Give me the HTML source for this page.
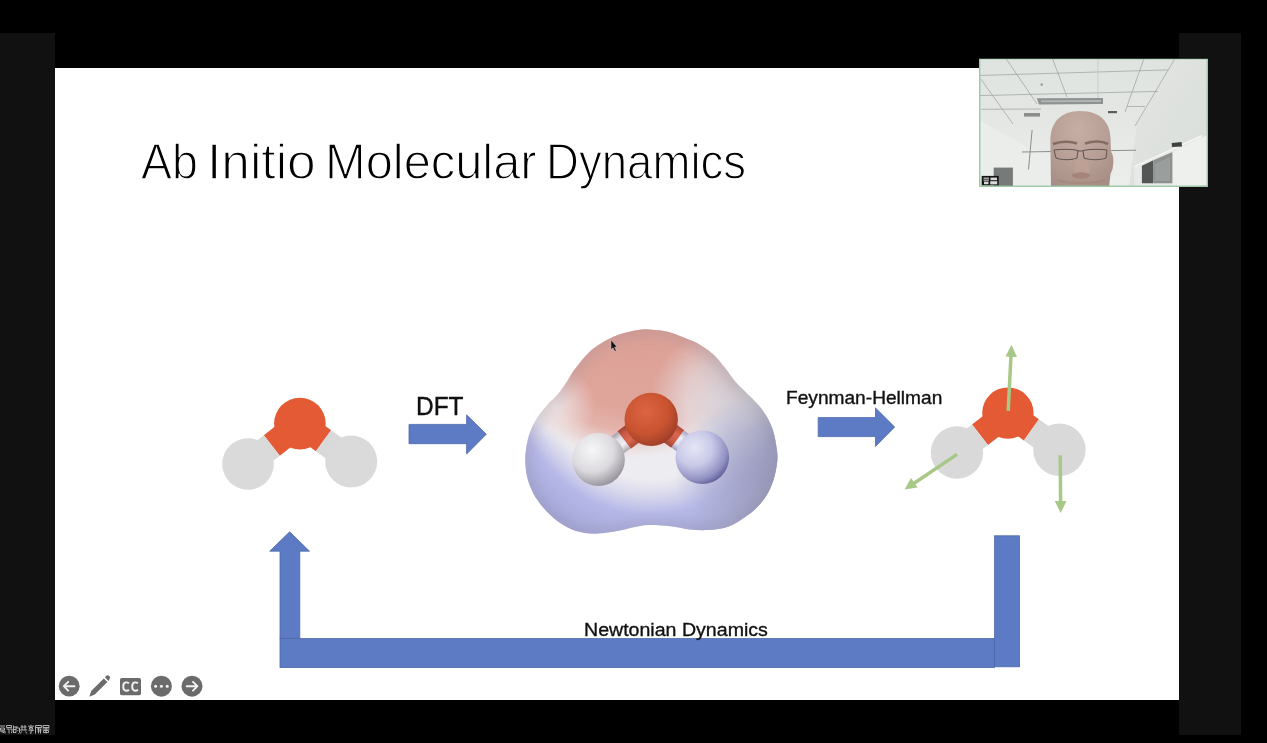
<!DOCTYPE html>
<html><head><meta charset="utf-8">
<style>
html,body{margin:0;padding:0;}
body{width:1267px;height:743px;background:#000;position:relative;overflow:hidden;font-family:"Liberation Sans",sans-serif;}
.abs{position:absolute;}
#lp{left:0;top:33px;width:55px;height:702px;background:#111;}
#rp{left:1179px;top:33px;width:62px;height:702px;background:#111;}
#slide{left:55px;top:68px;width:1124px;height:632px;background:#fff;}
.t{position:absolute;z-index:5;white-space:nowrap;color:#111;transform-origin:0 0;line-height:1;}
</style></head><body>
<div id="lp" class="abs"></div>
<div id="rp" class="abs"></div>
<div id="slide" class="abs"></div>

<div class="t" style="left:140.7px;top:136.8px;font-size:49.5px;-webkit-text-stroke:1.3px #fff;color:#000;transform:scaleX(0.939);">Ab</div>
<div class="t" style="left:206.9px;top:136.8px;font-size:49.5px;-webkit-text-stroke:1.3px #fff;color:#000;transform:scaleX(1.04);">Initio</div>
<div class="t" style="left:324.8px;top:136.8px;font-size:49.5px;-webkit-text-stroke:1.3px #fff;color:#000;transform:scaleX(0.986);">Molecular</div>
<div class="t" style="left:546.2px;top:136.8px;font-size:49.5px;-webkit-text-stroke:1.3px #fff;color:#000;transform:scaleX(0.921);">Dynamics</div>
<div class="t" id="dft" style="left:416px;top:394.4px;font-size:25.4px;transform:scaleX(0.963);-webkit-text-stroke:0.4px #111;">DFT</div>
<div class="t" id="fh" style="left:785.8px;top:388.5px;font-size:18.2px;transform:scaleX(1.052);-webkit-text-stroke:0.35px #111;">Feynman-Hellman</div>
<div class="t" id="nd" style="left:583.8px;top:620.6px;font-size:18.75px;transform:scaleX(1.044);-webkit-text-stroke:0.35px #111;">Newtonian Dynamics</div>

<svg class="abs" style="left:0;top:0" width="1267" height="743" viewBox="0 0 1267 743">
<defs>
  <linearGradient id="bondL1" gradientUnits="userSpaceOnUse" x1="299.5" y1="423.3" x2="248.5" y2="463.5">
    <stop offset="0.54" stop-color="#e85b37"/><stop offset="0.54" stop-color="#dadada"/>
  </linearGradient>
</defs>
<!-- blue arrows -->
<g fill="#5c7bc4" stroke="#4b69ab" stroke-width="0.8">
  <path d="M409 424.4 H466.6 V414.8 L486.3 434.2 L466.6 454.1 V443.7 H409 Z"/>
  <path d="M818.2 417.6 H875.5 V407.9 L894.7 427 L875.5 446.4 V436.6 H818.2 Z"/>
  <path d="M280 638.6 V551.2 H269.7 L289.7 531.8 L309.5 551.2 H299.8 V638.6 Z"/>
  <rect x="280" y="638.6" width="714.6" height="29"/>
  <rect x="994.6" y="535.8" width="24.9" height="131"/>
</g>

<!-- center molecule -->
<defs>
  <clipPath id="blobclip"><path d="M652.4 329.7 C657.1 330.1 662.0 330.2 668.0 331.8 C674.0 333.4 683.6 337.5 688.4 339.4 C693.2 341.3 692.9 340.6 697.0 343.0 C701.1 345.4 708.1 349.8 712.8 354.0 C717.5 358.2 721.2 363.3 725.0 368.0 C728.8 372.7 732.0 377.9 735.5 382.0 C739.0 386.1 742.2 388.7 746.0 392.5 C749.8 396.3 754.8 400.7 758.3 404.8 C761.8 408.9 764.5 412.6 767.0 417.0 C769.5 421.4 771.6 425.7 773.2 431.0 C774.8 436.3 776.0 443.4 776.7 448.6 C777.4 453.8 777.8 456.7 777.2 462.0 C776.7 467.3 775.2 474.6 773.4 480.2 C771.6 485.8 769.3 490.8 766.5 495.4 C763.7 500.0 760.2 504.2 756.4 508.0 C752.6 511.8 748.6 514.8 743.7 518.0 C738.9 521.2 733.2 525.0 727.3 527.0 C721.4 529.0 714.7 529.6 708.4 530.0 C702.1 530.4 695.7 530.0 689.4 529.4 C683.1 528.8 677.2 527.0 670.5 526.3 C663.8 525.6 655.3 524.8 649.0 525.0 C642.7 525.2 637.4 526.6 632.6 527.5 C627.8 528.4 626.2 529.5 620.0 530.5 C613.8 531.5 602.6 533.6 595.3 533.7 C588.0 533.8 581.7 532.7 576.0 531.0 C570.3 529.3 565.8 526.7 560.9 523.5 C556.0 520.3 550.8 515.6 546.9 511.7 C543.0 507.8 539.9 503.8 537.2 499.8 C534.5 495.9 532.6 492.3 530.8 488.0 C529.0 483.7 527.4 479.0 526.5 474.0 C525.6 469.0 525.2 463.2 525.3 458.0 C525.4 452.8 526.1 447.5 527.1 442.7 C528.1 437.9 529.4 433.5 531.2 429.2 C533.0 424.9 535.2 421.1 537.9 417.1 C540.6 413.1 543.9 408.8 547.3 405.0 C550.7 401.2 554.7 398.2 558.1 394.2 C561.5 390.2 564.7 385.0 567.5 380.8 C570.3 376.6 570.8 374.3 575.0 369.0 C579.2 363.7 585.7 354.6 592.7 349.0 C599.7 343.4 609.0 338.5 616.9 335.3 C624.8 332.1 634.1 330.6 640.0 329.7 C645.9 328.8 647.7 329.3 652.4 329.7Z"/></clipPath>
  <radialGradient id="esp" gradientUnits="userSpaceOnUse" cx="650" cy="330" r="220" gradientTransform="translate(650 330) scale(0.82 1) translate(-650 -330)">
    <stop offset="0.68" stop-color="#c4c4e8" stop-opacity="0"/>
    <stop offset="0.84" stop-color="#b6b8e8" stop-opacity="1"/>
    <stop offset="1" stop-color="#a6a8da"/>
  </radialGradient>
  <radialGradient id="sal" gradientUnits="userSpaceOnUse" cx="640" cy="330" r="150" gradientTransform="translate(636 330) rotate(-18) scale(1.1 0.95) translate(-636 -330)">
    <stop offset="0" stop-color="#dc9f95"/>
    <stop offset="0.55" stop-color="#dfa59b"/>
    <stop offset="0.70" stop-color="#e4b3ab"/>
    <stop offset="0.80" stop-color="#e9cdc9" stop-opacity="0.8"/>
    <stop offset="0.90" stop-color="#ecdfdf" stop-opacity="0"/>
  </radialGradient>
  <radialGradient id="rwhite" gradientUnits="userSpaceOnUse" cx="718" cy="400" r="68">
    <stop offset="0" stop-color="#e6e4ea" stop-opacity="0.9"/><stop offset="0.5" stop-color="#e6e4ea" stop-opacity="0.6"/><stop offset="1" stop-color="#e6e4ea" stop-opacity="0"/>
  </radialGradient>
  <radialGradient id="lwhite" gradientUnits="userSpaceOnUse" cx="555" cy="405" r="40">
    <stop offset="0" stop-color="#f0eef2" stop-opacity="0.8"/><stop offset="1" stop-color="#f0eef2" stop-opacity="0"/>
  </radialGradient>
  <radialGradient id="rlav" gradientUnits="userSpaceOnUse" cx="760" cy="480" r="85">
    <stop offset="0" stop-color="#acaed8" stop-opacity="0.9"/><stop offset="0.6" stop-color="#b4b6e0" stop-opacity="0.6"/><stop offset="1" stop-color="#b4b6e0" stop-opacity="0"/>
  </radialGradient>
  <linearGradient id="rshade" gradientUnits="userSpaceOnUse" x1="690" y1="0" x2="780" y2="0">
    <stop offset="0" stop-color="#787484" stop-opacity="0"/><stop offset="1" stop-color="#787484" stop-opacity="0.38"/>
  </linearGradient>
  <filter id="blur6" x="-20%" y="-20%" width="140%" height="140%"><feGaussianBlur stdDeviation="7"/></filter>
  <filter id="blur2" x="-20%" y="-20%" width="140%" height="140%"><feGaussianBlur stdDeviation="2"/></filter>
  <linearGradient id="bred" x1="0" y1="0" x2="0" y2="1">
    <stop offset="0" stop-color="#b04a38"/><stop offset="0.35" stop-color="#d9684f"/><stop offset="0.7" stop-color="#cc5c48"/><stop offset="1" stop-color="#a04434"/>
  </linearGradient>
  <linearGradient id="bwht" x1="0" y1="0" x2="0" y2="1">
    <stop offset="0" stop-color="#aaa6ae"/><stop offset="0.35" stop-color="#f0eef2"/><stop offset="0.7" stop-color="#e2e0e6"/><stop offset="1" stop-color="#a29ea8"/>
  </linearGradient>
  <linearGradient id="bwhtb" x1="0" y1="0" x2="0" y2="1">
    <stop offset="0" stop-color="#a6a6c0"/><stop offset="0.35" stop-color="#eeeef6"/><stop offset="0.7" stop-color="#dedeee"/><stop offset="1" stop-color="#9c9cbc"/>
  </linearGradient>
  <radialGradient id="gO" cx="0.4" cy="0.35" r="0.7">
    <stop offset="0" stop-color="#dc6444"/><stop offset="0.6" stop-color="#c9532f"/><stop offset="1" stop-color="#9a3c2a"/>
  </radialGradient>
  <radialGradient id="gHL" cx="0.38" cy="0.32" r="0.75">
    <stop offset="0" stop-color="#f6f6f8"/><stop offset="0.55" stop-color="#dcdade"/><stop offset="1" stop-color="#8e8a94"/>
  </radialGradient>
  <radialGradient id="gHR" cx="0.35" cy="0.32" r="0.75">
    <stop offset="0" stop-color="#e6e6f6"/><stop offset="0.45" stop-color="#c9c9e8"/><stop offset="0.8" stop-color="#9292c4"/><stop offset="1" stop-color="#5a5a92"/>
  </radialGradient>
</defs>
<g clip-path="url(#blobclip)">
  <rect x="515" y="320" width="270" height="220" fill="#edecf0"/>
  <rect x="515" y="320" width="270" height="220" fill="url(#esp)"/>
  <rect x="515" y="320" width="270" height="220" fill="url(#sal)"/>
  <rect x="515" y="320" width="270" height="220" fill="url(#rwhite)"/>
  <rect x="515" y="320" width="270" height="220" fill="url(#lwhite)"/>
  <rect x="515" y="320" width="270" height="220" fill="url(#rlav)"/>
  <rect x="515" y="320" width="270" height="220" fill="url(#rshade)"/>
  <path d="M652.4 329.7 C657.1 330.1 662.0 330.2 668.0 331.8 C674.0 333.4 683.6 337.5 688.4 339.4 C693.2 341.3 692.9 340.6 697.0 343.0 C701.1 345.4 708.1 349.8 712.8 354.0 C717.5 358.2 721.2 363.3 725.0 368.0 C728.8 372.7 732.0 377.9 735.5 382.0 C739.0 386.1 742.2 388.7 746.0 392.5 C749.8 396.3 754.8 400.7 758.3 404.8 C761.8 408.9 764.5 412.6 767.0 417.0 C769.5 421.4 771.6 425.7 773.2 431.0 C774.8 436.3 776.0 443.4 776.7 448.6 C777.4 453.8 777.8 456.7 777.2 462.0 C776.7 467.3 775.2 474.6 773.4 480.2 C771.6 485.8 769.3 490.8 766.5 495.4 C763.7 500.0 760.2 504.2 756.4 508.0 C752.6 511.8 748.6 514.8 743.7 518.0 C738.9 521.2 733.2 525.0 727.3 527.0 C721.4 529.0 714.7 529.6 708.4 530.0 C702.1 530.4 695.7 530.0 689.4 529.4 C683.1 528.8 677.2 527.0 670.5 526.3 C663.8 525.6 655.3 524.8 649.0 525.0 C642.7 525.2 637.4 526.6 632.6 527.5 C627.8 528.4 626.2 529.5 620.0 530.5 C613.8 531.5 602.6 533.6 595.3 533.7 C588.0 533.8 581.7 532.7 576.0 531.0 C570.3 529.3 565.8 526.7 560.9 523.5 C556.0 520.3 550.8 515.6 546.9 511.7 C543.0 507.8 539.9 503.8 537.2 499.8 C534.5 495.9 532.6 492.3 530.8 488.0 C529.0 483.7 527.4 479.0 526.5 474.0 C525.6 469.0 525.2 463.2 525.3 458.0 C525.4 452.8 526.1 447.5 527.1 442.7 C528.1 437.9 529.4 433.5 531.2 429.2 C533.0 424.9 535.2 421.1 537.9 417.1 C540.6 413.1 543.9 408.8 547.3 405.0 C550.7 401.2 554.7 398.2 558.1 394.2 C561.5 390.2 564.7 385.0 567.5 380.8 C570.3 376.6 570.8 374.3 575.0 369.0 C579.2 363.7 585.7 354.6 592.7 349.0 C599.7 343.4 609.0 338.5 616.9 335.3 C624.8 332.1 634.1 330.6 640.0 329.7 C645.9 328.8 647.7 329.3 652.4 329.7Z" fill="none" stroke="#85818f" stroke-opacity="0.3" stroke-width="10" filter="url(#blur6)"/>
</g>
<g>
  <g transform="translate(651.2 419.4) rotate(142.7)">
    <rect x="0" y="-11" width="34" height="22" fill="url(#bred)"/>
    <rect x="34" y="-10.5" width="32" height="21" fill="url(#bwht)"/>
  </g>
  <g transform="translate(651.2 419.4) rotate(36.5)">
    <rect x="0" y="-11" width="33" height="22" fill="url(#bred)"/>
    <rect x="33" y="-10.5" width="31" height="21" fill="url(#bwhtb)"/>
  </g>
  <circle cx="651.2" cy="419.4" r="26.7" fill="url(#gO)"/>
  <circle cx="598.5" cy="459.5" r="26.4" fill="url(#gHL)"/>
  <circle cx="702.3" cy="457.2" r="26.8" fill="url(#gHR)"/>
</g>
<path d="M611 340 L611 349.5 L613 347.8 L614.8 351.2 L616.2 350.5 L614.5 347.2 L617 347 Z" fill="#141414" stroke="#f4eeee" stroke-width="0.5" stroke-opacity="0.7"/>
<!-- left molecule -->
<g>
  <line x1="299.9" y1="423.6" x2="271.8" y2="445.5" stroke="#e35a35" stroke-width="26"/>
  <line x1="271.8" y1="445.5" x2="248.5" y2="463.5" stroke="#d9d9d9" stroke-width="26"/>
  <line x1="299.9" y1="423.6" x2="323.5" y2="440.7" stroke="#e35a35" stroke-width="26"/>
  <line x1="323.5" y1="440.7" x2="351.5" y2="461" stroke="#d9d9d9" stroke-width="26"/>
  <circle cx="299.9" cy="423.6" r="25.8" fill="#e35a35"/>
  <circle cx="248" cy="464" r="25.8" fill="#dadada"/>
  <circle cx="351.2" cy="461.4" r="26" fill="#dadada"/>
</g>
<!-- right molecule -->
<g>
  <line x1="1007.9" y1="413.1" x2="980" y2="434.7" stroke="#e35a35" stroke-width="26"/>
  <line x1="980" y1="434.7" x2="957" y2="452.5" stroke="#d9d9d9" stroke-width="26"/>
  <line x1="1007.9" y1="413.1" x2="1031.4" y2="429.8" stroke="#e35a35" stroke-width="26"/>
  <line x1="1031.4" y1="429.8" x2="1059.4" y2="449.8" stroke="#d9d9d9" stroke-width="26"/>
  <circle cx="1007.9" cy="413.1" r="25.7" fill="#e35a35"/>
  <circle cx="957" cy="452.5" r="26.2" fill="#d9d9d9"/>
  <circle cx="1059.4" cy="449.8" r="26.2" fill="#d9d9d9"/>
</g>
<!-- green arrows -->
<g stroke="#a7c886" stroke-width="3.5" fill="#a7c886">
  <line x1="1008.2" y1="410.8" x2="1011" y2="355"/>
  <path d="M1011.5 344.8 L1017 357 L1005.5 356.4 Z" stroke="none"/>
  <line x1="957" y1="454.4" x2="913" y2="484"/>
  <path d="M904.6 489.4 L911 478 L917.5 487.6 Z" stroke="none"/>
  <line x1="1060.2" y1="455.2" x2="1060.6" y2="502"/>
  <path d="M1060.7 513 L1054.8 501 L1066.5 501 Z" stroke="none"/>
</g>
</svg>

<!-- video thumbnail -->
<svg class="abs" style="left:979px;top:58px;z-index:6" width="229" height="129" viewBox="0 0 229 129">
  <defs>
    <linearGradient id="vceil" x1="0" y1="0" x2="0" y2="1">
      <stop offset="0" stop-color="#dfe3df"/><stop offset="0.5" stop-color="#e4e7e4"/><stop offset="1" stop-color="#eceeec"/>
    </linearGradient>
    <linearGradient id="vwall" x1="0" y1="0" x2="1" y2="1">
      <stop offset="0" stop-color="#e3e6e3"/><stop offset="1" stop-color="#d9ddd9"/>
    </linearGradient>
    <radialGradient id="skin" cx="0.45" cy="0.25" r="0.85">
      <stop offset="0" stop-color="#c6aea4"/><stop offset="0.55" stop-color="#b79e94"/><stop offset="1" stop-color="#a48c84"/>
    </radialGradient>
    <filter id="vb" x="-10%" y="-10%" width="120%" height="120%"><feGaussianBlur stdDeviation="0.5"/></filter>
    <filter id="vb2" x="-10%" y="-10%" width="120%" height="120%"><feGaussianBlur stdDeviation="1.2"/></filter>
  </defs>
  <rect x="0" y="0" width="229" height="129" fill="url(#vceil)"/>
  <g filter="url(#vb)">
  <!-- right wall -->
  <path d="M196 0 H229 V129 H150 L158 65 Z" fill="url(#vwall)"/>
  <!-- lower left wall -->
  <path d="M0 62 L50 90 L72 95 V129 H0 Z" fill="#eaedea"/>
  <!-- ceiling grid -->
  <g stroke="#8f9490" stroke-width="0.7" fill="none" opacity="0.85">
    <path d="M0 17.5 L189 11.9"/>
    <path d="M0 37.6 L179 33.4"/>
    <path d="M2 51.3 L62 51"/>
    <path d="M148 48.5 L166 48.5"/>
    <path d="M26.6 0 L58 46"/>
    <path d="M73.3 0 L88 39"/>
    <path d="M1.8 21 L34 66"/>
    <path d="M165.2 0 L146 54"/>
    <path d="M196.3 0 L156 68"/>
  </g>
  <path d="M119 0 L119 40" stroke="#c8ccc8" stroke-width="1"/>
  <path d="M57.7 40.3 L124 40 L124 46 L60 46.5 Z" fill="#8e9290"/>
  <path d="M62 42.2 L122 42 L122 44 L62 44.2 Z" fill="#b0b4b2"/>
  <rect x="45" y="55" width="16" height="3.6" fill="#8a8e8c"/>
  <rect x="129" y="53" width="9" height="2.2" fill="#5a5e5c"/>
  <circle cx="62.7" cy="26.6" r="1.3" fill="#9a9e9c"/>
  <!-- cross rail -->
  <path d="M43 94 L157 92.2" stroke="#8a8e8c" stroke-width="1"/>
  <path d="M53.1 72 L49.5 111.5" stroke="#8a8e8c" stroke-width="1"/>
  <!-- cabinets right -->
  <path d="M155 108.7 L222.9 77.6 V129 H155 Z" fill="#e6e9e6"/>
  <path d="M155 108.7 L222.9 77.6" stroke="#f6f8f6" stroke-width="1.2"/>
  <path d="M162.9 107.8 L174.4 102.3 V125.2 H162.9 Z" fill="#525654"/>
  <path d="M174.4 102.3 L193.6 94 V125.2 H174.4 Z" fill="#8c908e"/>
  <path d="M176 106 L191 99 V123 H176 Z" fill="#9a9e9c"/>
  <path d="M192.7 85 L202.7 84 L203 88.6 L193 89 Z" fill="#3e4240"/>
  <path d="M193.6 94 L228 77 V127 H193.6 Z" fill="#eef0ee"/>
  <!-- monitor left -->
  <rect x="14.7" y="109.6" width="19.2" height="19.4" fill="#767a78"/>
  <!-- head -->
  <path d="M72 129 L71.4 84 C71 64 82 53 101 53 C121 53 131 64 131.5 80 L132 94 C134.5 96 135 104 133.5 111 L131.5 116 L130 129 Z" fill="url(#skin)"/>
  
  <path d="M74 86 C82 83 92 83 98 85.5" stroke="#7a625a" stroke-width="2.6" fill="none" opacity="0.85"/>
  <path d="M106 85.5 C114 83 123 83 129 86" stroke="#7a625a" stroke-width="2.6" fill="none" opacity="0.85"/>
  <g stroke="#5e524e" stroke-width="1" fill="none">
    <path d="M75 92 C84 91 93 91 99 92.5 L98 100 C92 102.5 82 102 77 100 Z"/>
    <path d="M104 92.5 C111 91 121 91 128 92 L127 100 C121 102.5 110 102 105 100 Z"/>
    <path d="M99 93 L104 93"/>
  </g>
  <path d="M97 102 L95 114 C96 119 109 119 111 114 L108 102" stroke="none" fill="#c0a294" opacity="0.7"/>
  <ellipse cx="102" cy="117.5" rx="9" ry="3.2" fill="#a07e72" opacity="0.75"/>
  <path d="M78 122 C88 126 115 126 126 122" stroke="#a4867a" stroke-width="2" fill="none" opacity="0.6"/>
  </g>
  <!-- name label -->
  <rect x="2.7" y="117.9" width="17" height="9.6" fill="#151515"/>
  <g fill="#d8d8d8" filter="url(#vb)">
    <rect x="4.5" y="119.6" width="5.5" height="1.1"/><rect x="4.5" y="121.6" width="5.5" height="1.1"/><rect x="5" y="123.6" width="4.5" height="2.6"/>
    <rect x="11.5" y="119.6" width="6.5" height="2.6"/><rect x="11.2" y="123.2" width="7" height="3.2"/>
  </g>
  <rect x="0.7" y="0.7" width="227.6" height="127.6" fill="none" stroke="#9cc8a4" stroke-width="1.4"/>
  <path d="M0 0.5 H229" stroke="#2a3a2e" stroke-width="1"/>
</svg>
<!-- bottom-left control icons -->
<svg class="abs" style="left:55px;top:670px" width="150" height="30" viewBox="55 670 150 30">
  <g fill="#6b6b6b">
    <circle cx="69.2" cy="686.2" r="10.4"/>
    <circle cx="161.4" cy="686.2" r="10.5"/>
    <circle cx="192" cy="686.2" r="10.5"/>
    <rect x="120" y="678" width="21" height="17.3" rx="1.8"/>
    <path d="M89.3 696.8 L91.2 691 L103.8 678.4 L107.4 682 L94.8 694.6 Z"/>
    <path d="M104.9 677.3 L106.6 675.6 Q107.9 674.7 109.1 675.9 L109.7 676.5 Q110.7 677.7 109.7 678.8 L108.5 680.9 Z"/>
  </g>
  <g stroke="#f2f2f2" stroke-width="1.9" fill="none" stroke-linecap="round" stroke-linejoin="round">
    <path d="M74.5 686.2 H64 M68.2 681.8 L63.8 686.2 L68.2 690.6"/>
    <path d="M186.7 686.2 H197.2 M193 681.8 L197.4 686.2 L193 690.6"/>
  </g>
  <g fill="#f2f2f2">
    <circle cx="155.6" cy="686.3" r="1.5"/><circle cx="161.4" cy="686.3" r="1.5"/><circle cx="167.2" cy="686.3" r="1.5"/>
  </g>
  <g stroke="#f2f2f2" stroke-width="1.9" fill="none">
    <path d="M129 683.2 Q127.5 682.2 125.8 682.4 Q123.2 682.8 123.2 686.6 Q123.2 690.4 125.8 690.7 Q127.5 690.9 129 689.9"/>
    <path d="M138 683.2 Q136.5 682.2 134.8 682.4 Q132.2 682.8 132.2 686.6 Q132.2 690.4 134.8 690.7 Q136.5 690.9 138 689.9"/>
  </g>
</svg>
<!-- bottom-left caption (CJK glyph approximation) -->
<svg class="abs" style="left:0;top:722px" width="55" height="14" viewBox="0 0 55 14">
  <g stroke="#d4d4d4" stroke-width="0.9" fill="none" opacity="0.9">
    <path d="M0 4 H5 M0.5 6 H4.5 V8 H0.5 Z M0 9 H5 V11.5 M1.5 10 H3.5 V11"/>
    <path d="M6.5 3.5 H11.5 V5.5 H6.5 Z M6.5 7 H9 V11.5 M9.5 7 H12 V10 L11 11"/>
    <path d="M13.5 3.5 V11 M13.5 5 H16 V10.5 H13.5 M13.5 7.5 H16 M17 4 L16.5 6 H19.5 V10.5 L18.5 11.5 M17.5 8 L18 9"/>
    <path d="M20.5 5 H26.5 M20 8 H27 M22 3 V8 M25 3 V8 M21.5 9.5 L20.5 11.5 M25.5 9.5 L26.8 11.5"/>
    <path d="M31 2.8 V3.8 M28 4.2 H34 M29.5 5.5 H32.5 V7 H29.5 Z M28.5 8.2 H33.5 L31 9.2 V11.5 L30 11"/>
    <path d="M35.5 3.5 H41.5 V5.5 H35.5 M35.5 3.5 V11.5 M37 7 H41.5 M37.5 9 H41.5 M38.5 6 V11.5 M40.5 7 V11.5"/>
    <path d="M43 3.5 H49 V5.5 H43 Z M42.5 7 H49.5 M43.5 8.5 H48.5 V10.5 H43.5 Z M46 6 V11.5"/>
  </g>
</svg>
</body></html>
